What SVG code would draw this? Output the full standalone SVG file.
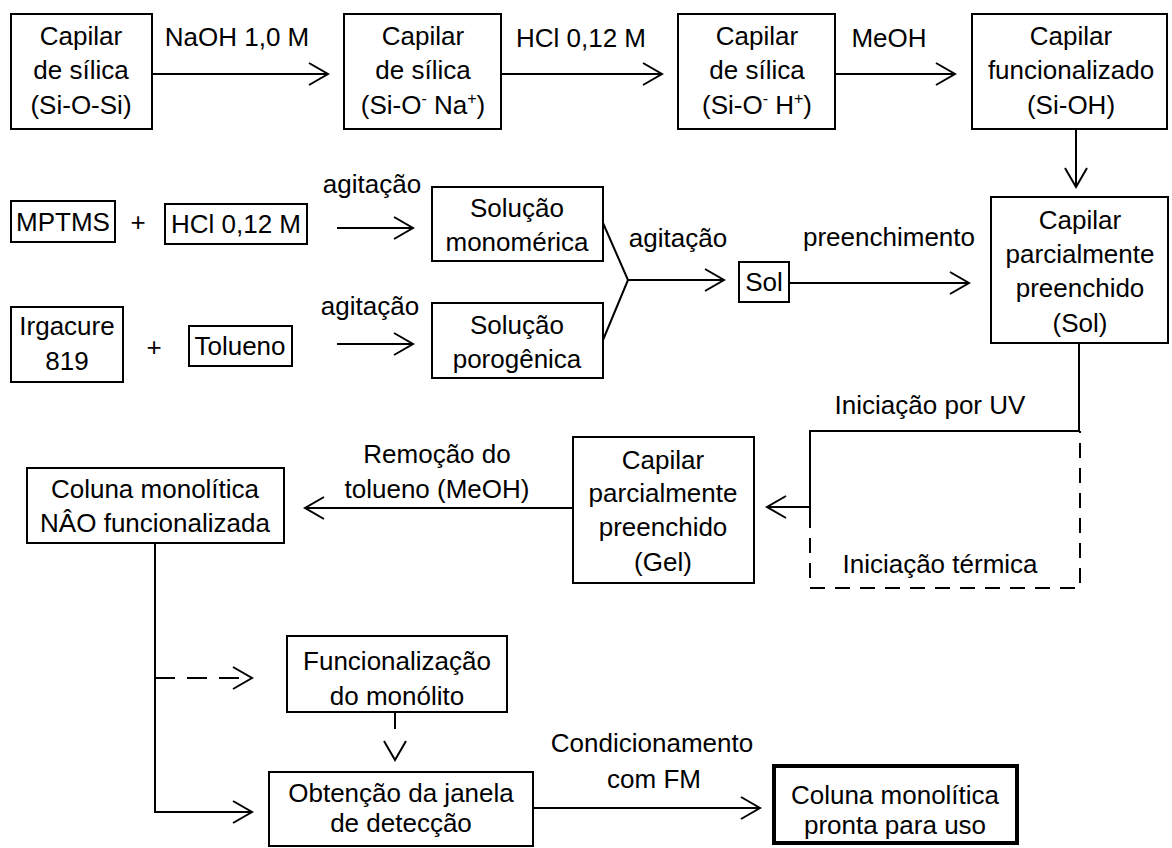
<svg xmlns="http://www.w3.org/2000/svg" width="1172" height="848" viewBox="0 0 1172 848">
<style>
.box{fill:none;stroke:#000;stroke-width:2}
.thick{fill:none;stroke:#000;stroke-width:4}
.t{font-family:"Liberation Sans",Arial,sans-serif;font-size:26px;text-anchor:middle;fill:#000}
.sup{font-size:16px}
.c{fill:none;stroke:#000;stroke-width:2}
.d{stroke-dasharray:15 10}
.d2{stroke-dasharray:20 12}
</style>
<defs>
<marker id="ah" markerUnits="userSpaceOnUse" markerWidth="26" markerHeight="28" viewBox="-23 -14 26 28" refX="0" refY="0" orient="auto">
<path d="M-19,-11 L0,0 L-19,11" fill="none" stroke="#000" stroke-width="2"/>
</marker>
</defs>
<rect width="1172" height="848" fill="#fff"/>

<g id="connectors">
<line class="c" x1="152" y1="74" x2="328" y2="74" marker-end="url(#ah)"/>
<line class="c" x1="501" y1="74" x2="662" y2="74" marker-end="url(#ah)"/>
<line class="c" x1="835" y1="74" x2="955" y2="74" marker-end="url(#ah)"/>
<line class="c" x1="1076" y1="129" x2="1076" y2="187" marker-end="url(#ah)"/>
<line class="c" x1="337" y1="228" x2="413" y2="228" marker-end="url(#ah)"/>
<line class="c" x1="337" y1="344" x2="413" y2="344" marker-end="url(#ah)"/>
<polyline class="c" points="603,223 628,280 603,340"/>
<line class="c" x1="628" y1="280" x2="724" y2="280" marker-end="url(#ah)"/>
<line class="c" x1="789" y1="283" x2="969" y2="283" marker-end="url(#ah)"/>
<polyline class="c" points="1079,343 1079,431 810,431 810,513"/>
<polyline class="c d" points="810,513 810,588 1080,588 1080,431"/>
<line class="c" x1="810" y1="507" x2="767" y2="507" marker-end="url(#ah)"/>
<line class="c" x1="573" y1="508" x2="305" y2="508" marker-end="url(#ah)"/>
<polyline class="c" points="155,543 155,812 252,812" marker-end="url(#ah)"/>
<line class="c d2" x1="155" y1="678" x2="252" y2="678" marker-end="url(#ah)"/>
<line class="c" x1="395" y1="712" x2="395" y2="760" stroke-dasharray="17 40" marker-end="url(#ah)"/>
<line class="c" x1="533" y1="808" x2="760" y2="808" marker-end="url(#ah)"/>
</g>

<g id="labels">
<text class="t" x="237" y="46">NaOH 1,0 M</text>
<text class="t" x="581" y="47">HCl 0,12 M</text>
<text class="t" x="889" y="47">MeOH</text>
<text class="t" x="372" y="193">agitação</text>
<text class="t" x="370" y="315">agitação</text>
<text class="t" x="678" y="247">agitação</text>
<text class="t" x="889" y="246">preenchimento</text>
<text class="t" x="930" y="414">Iniciação por UV</text>
<text class="t" x="940" y="573">Iniciação térmica</text>
<text class="t" x="437" y="463">Remoção do</text>
<text class="t" x="437" y="498">tolueno (MeOH)</text>
<text class="t" x="652" y="752">Condicionamento</text>
<text class="t" x="654" y="788">com FM</text>
<text class="t" x="138" y="231">+</text>
<text class="t" x="154" y="356">+</text>
</g>

<g id="n1">
<rect class="box" x="11" y="14" width="141" height="115"/>
<text class="t" x="81" y="45">Capilar</text>
<text class="t" x="81" y="79">de sílica</text>
<text class="t" x="81" y="114">(Si-O-Si)</text>
</g>
<g id="n2">
<rect class="box" x="344" y="14" width="157" height="115"/>
<text class="t" x="423" y="45">Capilar</text>
<text class="t" x="423" y="79">de sílica</text>
<text class="t" x="423" y="114">(Si-O<tspan class="sup" dy="-10">-</tspan><tspan dy="10"> Na</tspan><tspan class="sup" dy="-10">+</tspan><tspan dy="10">)</tspan></text>
</g>
<g id="n3">
<rect class="box" x="678" y="14" width="157" height="115"/>
<text class="t" x="757" y="45">Capilar</text>
<text class="t" x="757" y="79">de sílica</text>
<text class="t" x="757" y="114">(Si-O<tspan class="sup" dy="-10">-</tspan><tspan dy="10"> H</tspan><tspan class="sup" dy="-10">+</tspan><tspan dy="10">)</tspan></text>
</g>
<g id="n4">
<rect class="box" x="972" y="14" width="195" height="115"/>
<text class="t" x="1071" y="45">Capilar</text>
<text class="t" x="1071" y="79">funcionalizado</text>
<text class="t" x="1071" y="114">(Si-OH)</text>
</g>
<g id="n5">
<rect class="box" x="11" y="201" width="104" height="41"/>
<text class="t" x="63" y="231">MPTMS</text>
</g>
<g id="n6">
<rect class="box" x="165" y="204" width="142" height="40"/>
<text class="t" x="236" y="233">HCl 0,12 M</text>
</g>
<g id="n7">
<rect class="box" x="11" y="307" width="112" height="75"/>
<text class="t" x="67" y="335">Irgacure</text>
<text class="t" x="67" y="370">819</text>
</g>
<g id="n8">
<rect class="box" x="189" y="326" width="103" height="40"/>
<text class="t" x="240" y="355">Tolueno</text>
</g>
<g id="n9">
<rect class="box" x="432" y="187" width="171" height="74"/>
<text class="t" x="517" y="217">Solução</text>
<text class="t" x="517" y="251">monomérica</text>
</g>
<g id="n10">
<rect class="box" x="432" y="303" width="171" height="75"/>
<text class="t" x="517" y="334">Solução</text>
<text class="t" x="517" y="368">porogênica</text>
</g>
<g id="n11">
<rect class="box" x="739" y="262" width="50" height="40"/>
<text class="t" x="764" y="291">Sol</text>
</g>
<g id="n12">
<rect class="box" x="991" y="197" width="177" height="146"/>
<text class="t" x="1080" y="229">Capilar</text>
<text class="t" x="1080" y="263">parcialmente</text>
<text class="t" x="1080" y="297">preenchido</text>
<text class="t" x="1080" y="332">(Sol)</text>
</g>
<g id="n13">
<rect class="box" x="573" y="437" width="181" height="146"/>
<text class="t" x="663" y="469">Capilar</text>
<text class="t" x="663" y="502">parcialmente</text>
<text class="t" x="663" y="536">preenchido</text>
<text class="t" x="663" y="571">(Gel)</text>
</g>
<g id="n14">
<rect class="box" x="27" y="468" width="257" height="75"/>
<text class="t" x="155" y="498">Coluna monolítica</text>
<text class="t" x="155" y="532">NÂO funcionalizada</text>
</g>
<g id="n15">
<rect class="box" x="287" y="636" width="220" height="76"/>
<text class="t" x="397" y="670">Funcionalização</text>
<text class="t" x="397" y="705">do monólito</text>
</g>
<g id="n16">
<rect class="box" x="269" y="772" width="264" height="74"/>
<text class="t" x="401" y="802">Obtenção da janela</text>
<text class="t" x="401" y="832">de detecção</text>
</g>
<g id="n17">
<rect class="thick" x="774" y="766" width="243" height="77"/>
<text class="t" x="895" y="804">Coluna monolítica</text>
<text class="t" x="895" y="834">pronta para uso</text>
</g>
</svg>
